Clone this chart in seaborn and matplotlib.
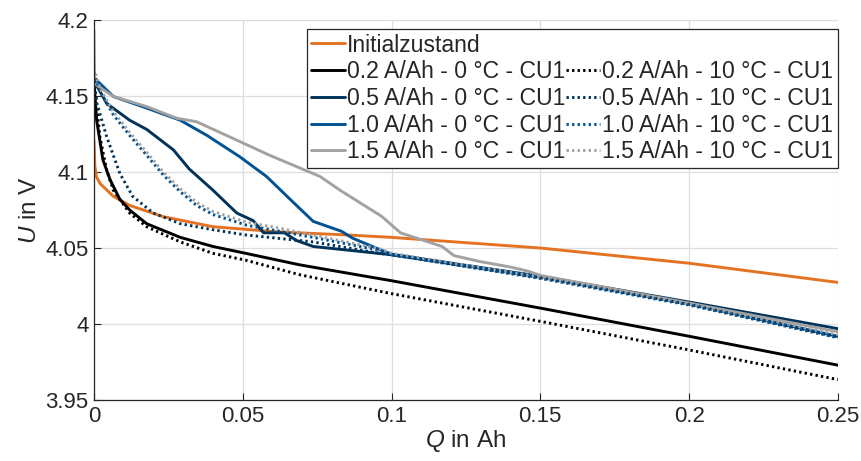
import numpy as np
import pandas as pd
import matplotlib
matplotlib.use("Agg")
import matplotlib.pyplot as plt
import seaborn as sns
from matplotlib.lines import Line2D
from matplotlib.ticker import FuncFormatter

# Kurven (Q in Ah, U in V)
q_init = [0, 0.0003, 0.0008, 0.002, 0.0065, 0.012, 0.0233, 0.040, 0.0625, 0.085, 0.100, 0.150, 0.200, 0.250]
u_init = [4.121, 4.104, 4.097, 4.0925, 4.084, 4.078, 4.0706, 4.064, 4.0605, 4.0586, 4.057, 4.050, 4.040, 4.0274]

q_02_0 = [0, 0.0009, 0.003, 0.0054, 0.0087, 0.012, 0.0177, 0.029, 0.040, 0.051, 0.069, 0.076, 0.100, 0.150, 0.200, 0.250]
u_02_0 = [4.160, 4.134, 4.108, 4.095, 4.082, 4.075, 4.066, 4.057, 4.051, 4.0465, 4.039, 4.0366, 4.0285, 4.0105, 3.992, 3.973]

q_05_0 = [0, 0.0043, 0.012, 0.0177, 0.0267, 0.032, 0.040, 0.048, 0.0535, 0.057, 0.064, 0.068, 0.0737, 0.100, 0.150, 0.200, 0.250]
u_05_0 = [4.160, 4.145, 4.134, 4.128, 4.1145, 4.102, 4.088, 4.073, 4.068, 4.060, 4.060, 4.055, 4.051, 4.0456, 4.0315, 4.0145, 3.997]

q_10_0 = [0, 0.0065, 0.0177, 0.029, 0.038, 0.049, 0.058, 0.067, 0.0737, 0.0832, 0.0868, 0.096, 0.100, 0.150, 0.200, 0.250]
u_10_0 = [4.162, 4.1496, 4.142, 4.134, 4.124, 4.110, 4.097, 4.080, 4.0675, 4.061, 4.0566, 4.049, 4.046, 4.031, 4.0135, 3.992]

q_15_0 = [0, 0.0002, 0.0065, 0.0177, 0.0278, 0.0345, 0.049, 0.059, 0.076, 0.0827, 0.0967, 0.103, 0.110, 0.117, 0.121, 0.130, 0.140, 0.146, 0.150, 0.200, 0.250]
u_15_0 = [4.193, 4.158, 4.1496, 4.143, 4.1353, 4.133, 4.120, 4.111, 4.097, 4.088, 4.0708, 4.060, 4.0555, 4.051, 4.045, 4.041, 4.0375, 4.0347, 4.032, 4.0138, 3.995]

q_02_10 = [0, 0.002, 0.0043, 0.0065, 0.012, 0.0177, 0.029, 0.040, 0.051, 0.069, 0.100, 0.150, 0.200, 0.250]
u_02_10 = [4.160, 4.123, 4.101, 4.088, 4.073, 4.064, 4.054, 4.0465, 4.042, 4.0325, 4.020, 4.0018, 3.983, 3.9635]

q_05_10 = [0, 0.001, 0.0043, 0.0087, 0.013, 0.0199, 0.029, 0.040, 0.051, 0.0737, 0.096, 0.100, 0.150, 0.200, 0.250]
u_05_10 = [4.160, 4.145, 4.123, 4.099, 4.084, 4.073, 4.066, 4.062, 4.0586, 4.054, 4.0465, 4.0455, 4.0305, 4.013, 3.9915]

q_10_10 = [0, 0.002, 0.0065, 0.012, 0.0177, 0.0233, 0.029, 0.0345, 0.040, 0.0513, 0.0625, 0.0737, 0.096, 0.100, 0.150, 0.200, 0.250]
u_10_10 = [4.165, 4.153, 4.1376, 4.124, 4.111, 4.098, 4.087, 4.078, 4.072, 4.065, 4.061, 4.057, 4.0485, 4.0455, 4.030, 4.0125, 3.991]

q_15_10 = [0, 0.002, 0.0065, 0.012, 0.0177, 0.0233, 0.029, 0.0345, 0.040, 0.0513, 0.0625, 0.0737, 0.096, 0.100, 0.150, 0.200, 0.250]
u_15_10 = [4.168, 4.155, 4.1396, 4.126, 4.113, 4.100, 4.089, 4.080, 4.074, 4.067, 4.063, 4.0585, 4.0495, 4.0465, 4.031, 4.0135, 3.993]

x_ticks = [0, 0.05, 0.1, 0.15, 0.2, 0.25]
y_ticks = [3.95, 4.0, 4.05, 4.1, 4.15, 4.2]

c_orange = "#E37222"
c_black = "#000000"
c_navy = "#003359"
c_blue = "#005293"
c_gray = "#A2A2A2"

sns.set_theme(style="whitegrid")
plt.rcParams["font.family"] = ["Liberation Sans", "DejaVu Sans"]
plt.rcParams["mathtext.fontset"] = "custom"
plt.rcParams["mathtext.it"] = "Liberation Sans:italic"
plt.rcParams["mathtext.rm"] = "Liberation Sans"

fig, ax = plt.subplots(figsize=(8.62, 4.61), dpi=100)
fig.subplots_adjust(left=0.109, right=0.972, top=0.957, bottom=0.132)

dot = (0, (0.8, 1.1))
lw = 2.1
series = [
    (q_init, u_init, c_orange, "-", "Initialzustand"),
    (q_02_0, u_02_0, c_black, "-", "0.2 A/Ah - 0 °C - CU1"),
    (q_05_0, u_05_0, c_navy, "-", "0.5 A/Ah - 0 °C - CU1"),
    (q_10_0, u_10_0, c_blue, "-", "1.0 A/Ah - 0 °C - CU1"),
    (q_15_0, u_15_0, c_gray, "-", "1.5 A/Ah - 0 °C - CU1"),
    (q_02_10, u_02_10, c_black, dot, "0.2 A/Ah - 10 °C - CU1"),
    (q_05_10, u_05_10, c_navy, dot, "0.5 A/Ah - 10 °C - CU1"),
    (q_10_10, u_10_10, c_blue, dot, "1.0 A/Ah - 10 °C - CU1"),
    (q_15_10, u_15_10, c_gray, dot, "1.5 A/Ah - 10 °C - CU1"),
]

handles = []
for q, u, col, ls, lab in series:
    df = pd.DataFrame({"Q": q, "U": u})
    sns.lineplot(data=df, x="Q", y="U", ax=ax, color=col, linestyle=ls,
                 linewidth=lw, sort=False, estimator=None)
    handles.append(Line2D([], [], color=col, linestyle=ls, linewidth=lw, label=lab))

blank = Line2D([], [], linestyle="none", label="")
leg_handles = handles[:5] + [blank] + handles[5:]
leg = ax.legend(handles=leg_handles, ncol=2, loc="upper right",
                bbox_to_anchor=(1.0, 0.976), borderaxespad=0, fontsize=16.6,
                handlelength=1.45, handletextpad=0.1, columnspacing=0.05,
                labelspacing=0.16, borderpad=0.2, fancybox=False,
                framealpha=1)
leg.get_frame().set_edgecolor("#262626")
leg.get_frame().set_linewidth(0.9)

ax.set_xlim(0, 0.25)
ax.set_ylim(3.95, 4.2)
ax.set_xticks(x_ticks)
ax.set_yticks(y_ticks)
fmt = FuncFormatter(lambda v, p: "%g" % round(v, 3))
ax.xaxis.set_major_formatter(fmt)
ax.yaxis.set_major_formatter(fmt)
ax.tick_params(axis="both", direction="in", length=5, width=0.8, color="#262626",
               labelsize=16, labelcolor="#262626", bottom=True, left=True, pad=4)
ax.grid(True, color="#DEDEDE", linewidth=0.9)
ax.set_facecolor("white")
for s in ["top", "right"]:
    ax.spines[s].set_visible(False)
for s in ["left", "bottom"]:
    ax.spines[s].set_color("#262626")
    ax.spines[s].set_linewidth(0.9)

ax.set_xlabel("$Q$ in Ah", fontsize=17.5, color="#262626", labelpad=1)
ax.set_ylabel("$U$ in V", fontsize=17.5, color="#262626", labelpad=3)

fig.savefig("out.png", dpi=100, facecolor="white")
